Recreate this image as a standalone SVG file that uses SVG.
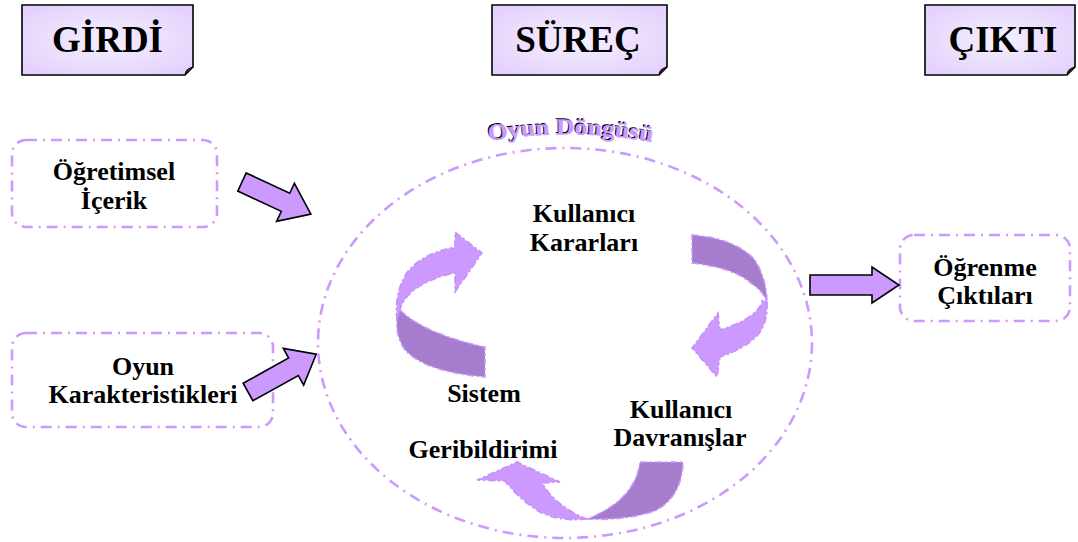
<svg xmlns="http://www.w3.org/2000/svg" width="1078" height="542" viewBox="0 0 1078 542">
  <defs>
    <radialGradient id="paper" cx="50%" cy="50%" r="60%">
      <stop offset="0" stop-color="#f6f0ff"/>
      <stop offset="1" stop-color="#e4d2fc"/>
    </radialGradient>
    <style>
      .title { font-family: "Liberation Serif", "Times New Roman", serif; font-weight: bold; font-size: 37px; fill: #000; text-anchor: middle; }
      .label { font-family: "Liberation Serif", "Times New Roman", serif; font-weight: bold; font-size: 26px; fill: #000; text-anchor: middle; }
      .note { fill: url(#paper); stroke: #000; stroke-width: 1.6; }
      .curl { fill: #cdb6ee; stroke: #000; stroke-width: 1.2; }
      .dashbox { fill: none; stroke: #cc99ff; stroke-width: 2.6; stroke-dasharray: 11 6 2 6; }
      .block { fill: #cc99ff; stroke: #000; stroke-width: 1.6; stroke-linejoin: miter; }
      .light { fill: #cc99ff; stroke: #c690fa; stroke-width: 1.6; stroke-dasharray: 7 3 2 3; }
      .dark { fill: #a57dcc; stroke: #cc99ff; stroke-width: 1.6; stroke-dasharray: 7 3 2 3; }
      .wordart { font-family: "Liberation Serif", "Times New Roman", serif; font-weight: bold; font-size: 23px; }
    </style>
  </defs>

  <rect width="1078" height="542" fill="#fff"/>

  <!-- header notes -->
  <g id="girdi">
    <path class="note" d="M22,5 H193 V67 L185,75 H22 Z"/>
    <path class="curl" d="M185,75 C186,71 187,69 193,67 C190,68 187,69 185,75 Z"/>
    <text class="title" x="107.5" y="52">GİRDİ</text>
  </g>
  <g id="surec">
    <path class="note" d="M492,5 H667 V67 L659,75 H492 Z"/>
    <path class="curl" d="M659,75 C660,71 661,69 667,67 C664,68 661,69 659,75 Z"/>
    <text class="title" x="578" y="52">SÜREÇ</text>
  </g>
  <g id="cikti">
    <path class="note" d="M925,5 H1075 V67 L1067,75 H925 Z"/>
    <path class="curl" d="M1067,75 C1068,71 1069,69 1075,67 C1072,68 1069,69 1067,75 Z"/>
    <text class="title" x="1003" y="52">ÇIKTI</text>
  </g>

  <!-- input boxes -->
  <g id="ogretimsel-icerik">
    <rect class="dashbox" x="12" y="140" width="205" height="87" rx="14"/>
    <text class="label" x="114" y="180">Öğretimsel</text>
    <text class="label" x="114" y="209">İçerik</text>
  </g>
  <g id="oyun-karakteristikleri">
    <rect class="dashbox" x="12" y="333" width="261" height="94" rx="14"/>
    <text class="label" x="143" y="375">Oyun</text>
    <text class="label" x="143" y="403">Karakteristikleri</text>
  </g>

  <!-- output box -->
  <g id="ogrenme-ciktilari">
    <rect class="dashbox" x="900" y="235" width="170" height="86" rx="14"/>
    <text class="label" x="985" y="276">Öğrenme</text>
    <text class="label" x="985" y="304">Çıktıları</text>
  </g>

  <!-- game loop -->
  <g id="oyun-dongusu">
    <ellipse class="dashbox" cx="565" cy="343" rx="247" ry="195"/>
    <path id="arcTitle" d="M489,141 Q572,127 656,143" fill="none"/>
    <text class="wordart" fill="#000" transform="translate(-1.2,-1.2)"><textPath href="#arcTitle" textLength="164" lengthAdjust="spacingAndGlyphs">Oyun Döngüsü</textPath></text>
    <text class="wordart" fill="#cc99ff" stroke="#cc99ff" stroke-width="0.4"><textPath href="#arcTitle" textLength="164" lengthAdjust="spacingAndGlyphs">Oyun Döngüsü</textPath></text>
  </g>

  <!-- loop arrows -->
  <g id="loop-arrow-left">
    <path class="dark" d="M400,310 Q425,334 485,347 L485,377 Q425,372 405,350 Q395,336 397,318 Z"/>
    <path class="light" d="M397,320 Q394,294 406,274 Q420,254 455,247 L455,232 L482,253 L455,292 L455,273 Q430,278 414,290 Q402,300 400,310 Z"/>
  </g>
  <g id="loop-arrow-right">
    <path class="dark" d="M692,235 Q735,238 755,260 Q767,280 767,302 Q762,290 752,284 Q735,268 692,263 Z"/>
    <path class="light" d="M767,302 Q768,325 756,337 Q742,350 720,357 L717,377 L692,348 L718,313 L720,330 Q745,322 755,312 Q762,306 762,300 Z"/>
  </g>
  <g id="loop-arrow-bottom">
    <path class="dark" d="M640,462 H683 Q682,497 655,511 Q625,521 587,519 Q615,508 628,491 Q638,478 640,462 Z"/>
    <path class="light" d="M587,519 Q558,522 538,511 Q518,498 505,481 L477,480 L517,462 L560,482 L542,483 Q552,499 566,508 Q576,515 587,519 Z"/>
  </g>

  <!-- loop labels -->
  <g id="kullanici-kararlari">
    <text class="label" x="584" y="222">Kullanıcı</text>
    <text class="label" x="584" y="251">Kararları</text>
  </g>
  <g id="sistem-geribildirimi">
    <text class="label" x="484" y="402">Sistem</text>
    <text class="label" x="483" y="458">Geribildirimi</text>
  </g>
  <g id="kullanici-davranislar">
    <text class="label" x="681" y="418">Kullanıcı</text>
    <text class="label" x="680" y="446">Davranışlar</text>
  </g>

  <!-- block arrows between stages -->
  <g id="connectors">
    <path class="block" d="M0,-10 H48 V-21 L76,0 L48,21 V10 H0 Z" transform="translate(242,182) rotate(25)"/>
    <path class="block" d="M0,-10 H52 V-21 L78,0 L52,21 V10 H0 Z" transform="translate(248,392) rotate(-29)"/>
    <path class="block" d="M810,275 H872 V267 L899,285 L872,303 V295 H810 Z"/>
  </g>
</svg>
